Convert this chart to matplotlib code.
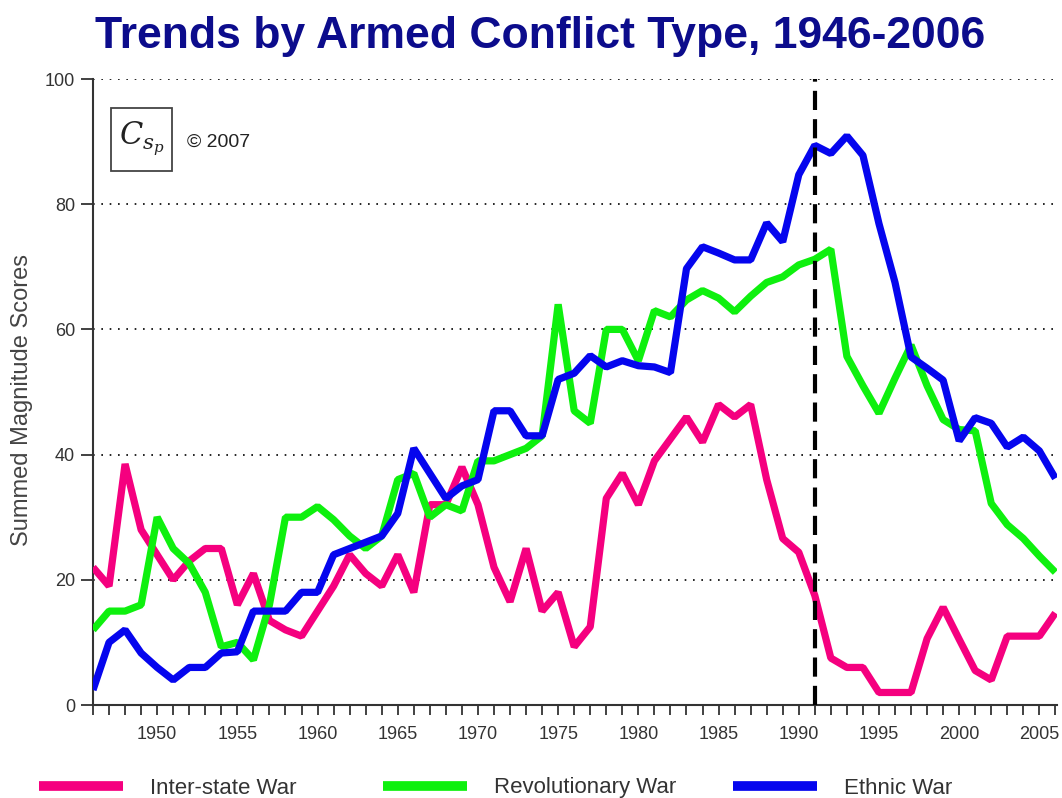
import matplotlib
matplotlib.use("Agg")
import matplotlib.pyplot as plt
from matplotlib.patches import Rectangle
from matplotlib.lines import Line2D
from matplotlib.ticker import MultipleLocator

years = list(range(1946, 2007))

interstate = [22, 19, 38.5, 28, 24, 20, 23, 25, 25, 16,
              21, 13.5, 12, 11, 15, 19, 24, 21, 19, 24,
              18, 32, 32, 38, 32, 22, 16.5, 25, 15, 18,
              9.3, 12.5, 33, 37, 32, 39, 42.5, 46, 42, 48,
              46, 48, 36, 26.6, 24.4, 17.5, 7.5, 6, 6, 2,
              2, 2, 10.6, 15.6, 10.5, 5.5, 4, 11, 11, 11,
              14.7]

revolutionary = [12, 15, 15, 16, 30, 25, 22.6, 18, 9.3, 10,
                 7.2, 16, 30, 30, 31.7, 29.6, 27, 25, 27, 36,
                 37, 30, 32, 31, 39, 39, 40, 41, 43, 64,
                 47, 45, 60, 60, 55, 63, 62, 64.7, 66.2, 65,
                 62.8, 65.3, 67.5, 68.4, 70.3, 71.2, 72.8, 55.7, 51, 46.6,
                 52.2, 57.5, 51, 45.6, 44, 43.8, 32.2, 28.8, 26.6, 23.8,
                 21.2]

ethnic = [2.4, 10, 12, 8.3, 6, 4, 6, 6, 8.3, 8.5,
          15, 15, 15, 18, 18, 24, 25, 26, 27, 30.6,
          41, 37, 33, 35, 36, 47, 47, 43, 43, 52,
          53, 55.8, 54, 55, 54.2, 54, 53.1, 69.7, 73.2, 72.2,
          71.1, 71.1, 77, 74, 84.7, 89.4, 88.1, 90.9, 87.8, 76.9,
          67.5, 55.6, 53.8, 51.9, 42.2, 45.9, 45, 41.2, 42.8, 40.6,
          36.2]

series_names = ["Inter-state War", "Revolutionary War", "Ethnic War"]
series_colors = ["#f5007f", "#0ef00e", "#0505ee"]
cold_war_end = 1991
title = "Trends by Armed Conflict Type, 1946-2006"
ylabel = "Summed Magnitude Scores"
copyright_text = "\u00a9 2007"
logo_text = r"$C_{s_{p}}$"

plt.rcParams['font.family'] = ['Liberation Sans', 'DejaVu Sans']

fig = plt.figure(figsize=(10.62, 7.98), dpi=100)
ax = fig.add_axes([93/1062, 1-705/798, 964/1062, 626/798])

lines = []
for vals, name, col in zip([interstate, revolutionary, ethnic], series_names, series_colors):
    ln, = ax.plot(years, vals, color=col, lw=5.2, label=name, zorder=3,
                  solid_joinstyle='bevel', solid_capstyle='butt')
    lines.append(ln)

ax.axvline(cold_war_end, color='black', lw=3, dashes=(4.6, 2.2), zorder=5)

ax.set_xlim(1946, 2006.1)
ax.set_ylim(0, 100)
ax.yaxis.set_major_locator(MultipleLocator(20))
ax.xaxis.set_major_locator(MultipleLocator(5))
ax.xaxis.set_minor_locator(MultipleLocator(1))
ax.grid(axis='y', color='black', linestyle=(0, (1, 4)), lw=1.2)
ax.set_axisbelow(True)

for s in ['top', 'right']:
    ax.spines[s].set_visible(False)
for s in ['left', 'bottom']:
    ax.spines[s].set_color('#333333')
    ax.spines[s].set_linewidth(1.5)

ax.tick_params(axis='x', which='both', direction='out', length=7, width=1.3,
               color='#333333', labelsize=13, labelcolor='#333333', pad=8)
ax.tick_params(axis='y', which='major', direction='out', length=9, width=1.3,
               color='#333333', labelsize=13, labelcolor='#333333', pad=4)

fig.text(0.5085, 1-48/798, title, ha='center', va='baseline',
         fontsize=32, fontweight='bold', color='#0c0c8c')
fig.text(22/1062, 0.4987, ylabel, rotation=90, ha='center', va='center',
         fontsize=17, color='#444444')

# logo
ax.add_patch(Rectangle((0.0187, 0.853), 0.0633, 0.1006, transform=ax.transAxes,
                       fill=False, edgecolor='#444444', lw=1.3, zorder=6))
ax.text(0.0503, 0.905, logo_text, transform=ax.transAxes, fontsize=22,
        math_fontfamily='dejavuserif', ha='center', va='center', color='#222222')
ax.text(0.0975, 0.899, copyright_text, transform=ax.transAxes, fontsize=14,
        ha='left', va='center', color='#222222')

# legend: three separate entries across the bottom
leg_x = [39/1062, 383/1062, 733/1062]
for ln, x in zip(lines, leg_x):
    h = Line2D([], [], color=ln.get_color(), lw=7, solid_capstyle='butt')
    fig.legend(handles=[h], labels=[ln.get_label()], loc='center left',
               bbox_to_anchor=(x, 1-788/798), frameon=False, fontsize=16,
               handlelength=3.8, handletextpad=1.2, borderpad=0, borderaxespad=0,
               labelcolor='#333333')

fig.savefig("out.png", dpi=100)
